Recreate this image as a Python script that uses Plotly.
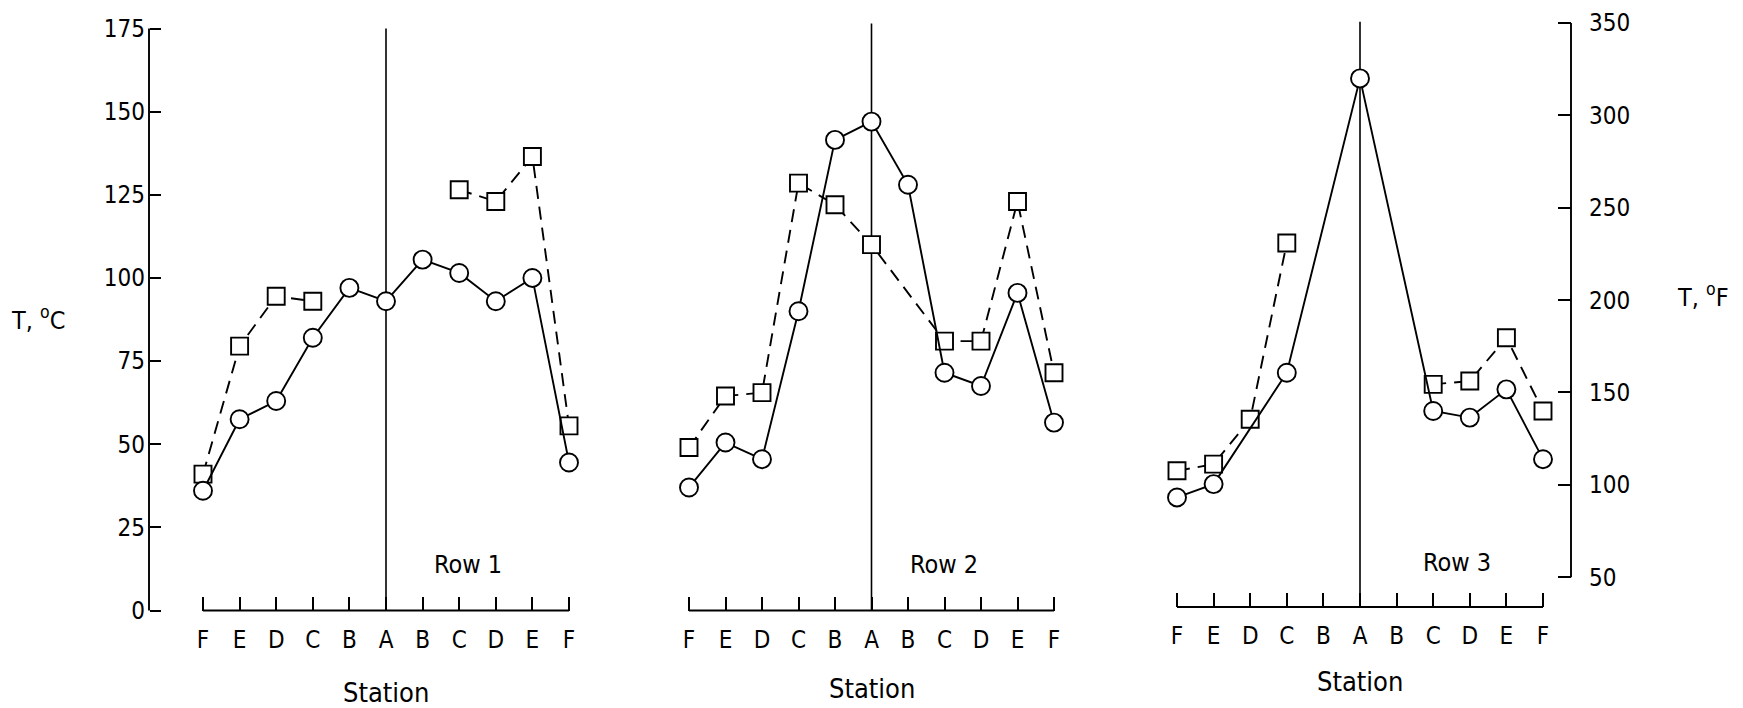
import plotly.graph_objects as go

# Station labels along each row (edge -> centre -> edge)
stations = ["F", "E", "D", "C", "B", "A", "B", "C", "D", "E", "F"]
positions = list(range(len(stations)))

# Temperatures in deg C; None = no reading at that station
row1_circle = [36, 57.5, 63, 82, 97, 93, 105.5, 101.5, 93, 100, 44.5]
row1_square = [41, 79.5, 94.5, 93, None, None, None, 126.5, 123, 136.5, 55.5]

row2_circle = [37, 50.5, 45.5, 90, 141.5, 147, 128, 71.5, 67.5, 95.5, 56.5]
row2_square = [49, 64.5, 65.5, 128.5, 122, 110, None, 81, 81, 123, 71.5]

row3_circle = [34, 38, None, 71.5, None, 160, None, 60, 58, 66.5, 45.5]
row3_square = [42, 44, 57.5, 110.5, None, None, None, 68, 69, 82, 60]

row_names = ["Row 1", "Row 2", "Row 3"]

# Left (deg C) and right (deg F) tick values
c_ticks = [0, 25, 50, 75, 100, 125, 150, 175]
f_ticks = [50, 100, 150, 200, 250, 300, 350]

# ---------------------------------------------------------------- layout
W, H = 1743, 708
FONT = "Liberation Sans Narrow, Arial Narrow, DejaVu Sans Condensed, Liberation Sans, sans-serif"


def px_x(p):
    return p / W


def px_y(p):
    return 1 - p / H


# pixel geometry of the shared temperature scale
y_zero_px, y_top_px = 610.5, 28.5
px_per_deg = (y_zero_px - y_top_px) / 175.0
c_min = -(H - y_zero_px) / px_per_deg
c_max = 175 + y_top_px / px_per_deg


def c_to_f(c):
    return c * 9 / 5 + 32


def px_to_c(p):
    return (y_zero_px - p) / px_per_deg


panel_px = [(203, 569), (689, 1054), (1177, 1543)]
axis_row_px = [610.5, 610.5, 607]
left_axis_px = 149
right_axis_px = 1571
pad = 0.5  # extra axis range so the end ticks sit inside the subplot

rows = [
    (row1_circle, row1_square, False, False),
    (row2_circle, row2_square, False, True),
    (row3_circle, row3_square, True, False),
]

fig = go.Figure()

line_w = 1.9
for i, (circ, sq, circ_gaps, sq_gaps) in enumerate(rows):
    xa = "x" if i == 0 else f"x{i + 1}"
    fig.add_trace(go.Scatter(
        x=positions, y=sq, xaxis=xa, yaxis="y",
        mode="lines+markers", connectgaps=sq_gaps, cliponaxis=False,
        line=dict(color="black", width=line_w, dash="13px,8px"),
        marker=dict(symbol="square", size=17, color="white",
                    line=dict(color="black", width=line_w)),
        hoverinfo="x+y", showlegend=False,
    ))
    fig.add_trace(go.Scatter(
        x=positions, y=circ, xaxis=xa, yaxis="y",
        mode="lines+markers", connectgaps=circ_gaps, cliponaxis=False,
        line=dict(color="black", width=line_w),
        marker=dict(symbol="circle", size=18, color="white",
                    line=dict(color="black", width=line_w)),
        hoverinfo="x+y", showlegend=False,
    ))

axis_common = dict(showgrid=False, zeroline=False, fixedrange=True,
                   tickfont=dict(family=FONT, size=24, color="black"),
                   tickcolor="black", tickwidth=1.8)

layout = dict(
    width=W, height=H,
    margin=dict(l=0, r=0, t=0, b=0),
    paper_bgcolor="white", plot_bgcolor="white",
    showlegend=False,
    font=dict(family=FONT, color="black"),
)

for i, (x0, x10) in enumerate(panel_px):
    key = "xaxis" if i == 0 else f"xaxis{i + 1}"
    step = (x10 - x0) / 10
    layout[key] = dict(
        axis_common,
        domain=[px_x(x0 - pad * step), px_x(x10 + pad * step)],
        range=[-pad, 10 + pad],
        anchor="free", position=1 - axis_row_px[i] / H,
        showline=False,
        ticks="inside", ticklen=14,
        tickmode="array", tickvals=positions, ticktext=stations,
        ticklabelstandoff=12,
    )

layout["yaxis"] = dict(
    axis_common,
    domain=[0, 1], range=[c_min, c_max],
    anchor="free", position=px_x(left_axis_px), side="left",
    showline=False, ticks="inside", ticklen=11,
    tickmode="array", tickvals=c_ticks,
    ticklabelstandoff=4,
)
layout["yaxis2"] = dict(
    axis_common,
    overlaying="y", range=[c_to_f(c_min), c_to_f(c_max)],
    anchor="free", position=px_x(right_axis_px), side="right",
    showline=False, ticks="inside", ticklen=13,
    tickmode="array", tickvals=f_ticks,
    ticklabelstandoff=17,
)
fig.update_layout(**layout)

# keep the deg F axis attached to the third row
fig.add_trace(go.Scatter(x=[], y=[], xaxis="x3", yaxis="y2",
                         showlegend=False, hoverinfo="skip"))

shapes = []
# left deg C axis line, right deg F axis line
shapes.append(dict(type="line", xref="paper", yref="y",
                   x0=px_x(left_axis_px), x1=px_x(left_axis_px),
                   y0=0, y1=175, line=dict(color="black", width=1.9)))
shapes.append(dict(type="line", xref="paper", yref="y2",
                   x0=px_x(right_axis_px), x1=px_x(right_axis_px),
                   y0=f_ticks[0], y1=f_ticks[-1],
                   line=dict(color="black", width=1.9)))
a_pos = stations.index("A")
for i in range(3):
    xa = "x" if i == 0 else f"x{i + 1}"
    # station baseline from the first F to the last F
    shapes.append(dict(type="line", xref=xa, yref="paper",
                       x0=positions[0], x1=positions[-1],
                       y0=1 - axis_row_px[i] / H, y1=1 - axis_row_px[i] / H,
                       line=dict(color="black", width=1.9)))
# centre-line at station A in each row
for i, top in enumerate([175, 176.5, 177]):
    xa = "x" if i == 0 else f"x{i + 1}"
    shapes.append(dict(type="line", xref=xa, yref="y", layer="below",
                       x0=a_pos, x1=a_pos, y0=px_to_c(axis_row_px[i]), y1=top,
                       line=dict(color="black", width=1.6)))
fig.update_layout(shapes=shapes)

ann = []


def label(text, x, y, size=25):
    return dict(text=text, x=px_x(x), y=px_y(y), xref="paper", yref="paper",
                xanchor="center", yanchor="middle", showarrow=False,
                font=dict(family=FONT, size=size, color="black"))


ann.append(label("T, <sup>o</sup>C", 38, 318))
ann.append(label("T, <sup>o</sup>F", 1703, 296))
row_label_px = [(468, 564), (944, 564), (1457, 562)]
station_y_px = [692, 688, 681]
for i, name in enumerate(row_names):
    rx, ry = row_label_px[i]
    ann.append(label(name, rx, ry))
    x0, x10 = panel_px[i]
    sx = x0 + (x10 - x0) * a_pos / 10
    ann.append(label("Station", sx, station_y_px[i], size=27))
fig.update_layout(annotations=ann)

fig.write_html("out.html", config={"displayModeBar": False})
